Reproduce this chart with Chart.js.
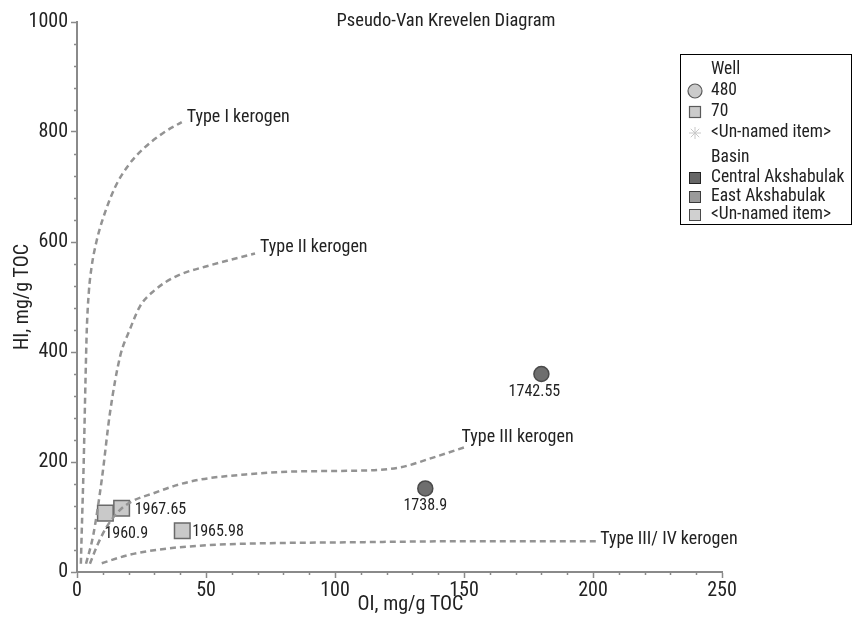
<!DOCTYPE html>
<html>
<head>
<meta charset="utf-8">
<script src="https://cdn.jsdelivr.net/npm/chart.js@4/dist/chart.umd.min.js"></script>
<style>
  html, body { margin: 0; padding: 0; background: #ffffff; }
  #wrap { width: 853px; height: 617px; position: relative; }
</style>
</head>
<body>
<div id="wrap"><canvas id="chart" width="853" height="617"></canvas></div>
<script>
const FONT = "'Roboto Condensed', Roboto, sans-serif";

// Axis ranges and tick steps
const xRange = [0, 250];
const yRange = [0, 1000];
const xMajorStep = 50, xMinorStep = 10;
const yMajorStep = 200, yMinorStep = 40;

// Samples, well 480 (Central Akshabulak)
const well480Depths = ['1742.55', '1738.9'];
const well480OI = [180, 135];
const well480HI = [360, 152];

// Samples, well 70
const well70Depths = ['1960.9', '1967.65', '1965.98'];
const well70OI = [11, 17.3, 40.8];
const well70HI = [107, 116, 75];

// Kerogen type reference curves (OI, HI)
const curveNames = ['Type I kerogen', 'Type II kerogen', 'Type III kerogen', 'Type III/ IV kerogen'];
const typeIOI  = [1.5, 1.8, 2.6, 3.3, 3.8, 4.6, 5.7, 7.5, 9.6, 14.7, 20, 25.6, 33, 40.6];
const typeIHI  = [15, 67, 200, 350, 441, 510, 556, 600, 636, 699, 740, 769, 797, 818];
const typeIIOI = [3.5, 6.3, 9.6, 12.8, 16.7, 20.5, 24.4, 30, 38.6, 50.3, 69];
const typeIIHI = [15, 67, 168, 290, 392, 441, 483, 512, 538, 556, 579];
const typeIIIOI = [5, 8, 11.5, 16.7, 22, 29.6, 38, 47.7, 67, 86.4, 105.8, 125, 138, 151];
const typeIIIHI = [15, 50, 82, 113, 130, 143, 157, 168, 178, 183, 184, 190, 208, 228];
const typeIVOI = [9.6, 20, 32, 51.6, 70, 106, 151, 202];
const typeIVHI = [16, 31, 41, 49, 52, 54, 56, 56];

// Legend entries
const legendWellTitle = 'Well';
const legendWells = ['480', '70', '<Un-named item>'];
const legendBasinTitle = 'Basin';
const legendBasins = ['Central Akshabulak', 'East Akshabulak', '<Un-named item>'];

const chartTitle = 'Pseudo-Van Krevelen Diagram';
const xTitle = 'OI, mg/g TOC';
const yTitle = 'HI, mg/g TOC';

// --- styling (kept apart from the values) ---
const AXIS = '#8a8a8a';
const TEXT = '#222222';
const CURVE = '#939393';
const curveLabelOffsets = [[5, -5], [5, -6], [-5, -9], [2, -2]];
const well480LabelOffsets = [[-7, 18, 'center'], [0, 18, 'center']];
const well70LabelOffsets = [[-1, 21, 'left'], [13, 2, 'left'], [10, 1, 'left']];

const toPoints = (xs, ys) => xs.map((x, i) => ({ x: x, y: ys[i] }));

function curveDataset(name, xs, ys) {
  return {
    label: name,
    data: toPoints(xs, ys),
    showLine: true,
    borderColor: CURVE,
    borderWidth: 2.5,
    borderDash: [6, 4],
    pointRadius: 0,
    cubicInterpolationMode: 'monotone',
    fill: false,
    isCurve: true
  };
}

const datasets = [
  curveDataset(curveNames[0], typeIOI, typeIHI),
  curveDataset(curveNames[1], typeIIOI, typeIIHI),
  curveDataset(curveNames[2], typeIIIOI, typeIIIHI),
  curveDataset(curveNames[3], typeIVOI, typeIVHI),
  {
    label: 'Well 70',
    data: toPoints(well70OI, well70HI),
    pointStyle: 'rect',
    pointRadius: 11,
    backgroundColor: '#c9c9c9',
    borderColor: '#6a6a6a',
    borderWidth: 1.5,
    depthLabels: well70Depths,
    labelOffsets: well70LabelOffsets
  },
  {
    label: 'Well 480',
    data: toPoints(well480OI, well480HI),
    pointStyle: 'circle',
    pointRadius: 7.5,
    backgroundColor: '#6e6e6e',
    borderColor: '#4a4a4a',
    borderWidth: 1.5,
    depthLabels: well480Depths,
    labelOffsets: well480LabelOffsets
  }
];

// Short minor tick marks between the labelled ticks
const minorTicks = {
  id: 'minorTicks',
  afterDraw(chart) {
    const { ctx, chartArea, scales } = chart;
    ctx.save();
    ctx.strokeStyle = AXIS;
    ctx.lineWidth = 1.5;
    ctx.beginPath();
    for (let v = yRange[0]; v <= yRange[1]; v += yMinorStep) {
      if (v % yMajorStep === 0) continue;
      const py = Math.round(scales.y.getPixelForValue(v)) + 0.5;
      ctx.moveTo(chartArea.left - 3, py);
      ctx.lineTo(chartArea.left, py);
    }
    for (let v = xRange[0]; v <= xRange[1]; v += xMinorStep) {
      if (v % xMajorStep === 0) continue;
      const px = Math.round(scales.x.getPixelForValue(v)) + 0.5;
      ctx.moveTo(px, chartArea.bottom);
      ctx.lineTo(px, chartArea.bottom + 3);
    }
    ctx.stroke();
    ctx.restore();
  }
};

// Curve names at the end of each curve, depth labels beside each sample
const annotations = {
  id: 'annotations',
  afterDatasetsDraw(chart) {
    const { ctx } = chart;
    ctx.save();
    ctx.fillStyle = TEXT;
    chart.data.datasets.forEach((ds, di) => {
      const meta = chart.getDatasetMeta(di);
      if (ds.isCurve) {
        const last = meta.data[meta.data.length - 1];
        const off = curveLabelOffsets[di];
        ctx.font = '18px ' + FONT;
        ctx.textAlign = 'left';
        ctx.textBaseline = 'middle';
        ctx.fillText(ds.label, last.x + off[0], last.y + off[1]);
      } else if (ds.depthLabels) {
        ctx.font = '16px ' + FONT;
        ctx.textBaseline = 'middle';
        meta.data.forEach((pt, i) => {
          const off = ds.labelOffsets[i];
          ctx.textAlign = off[2];
          ctx.fillText(ds.depthLabels[i], pt.x + off[0], pt.y + off[1]);
        });
      }
    });
    ctx.restore();
  }
};

// Title, horizontal axis title and the grouped legend box
const frame = {
  id: 'frame',
  afterDraw(chart) {
    const { ctx, chartArea } = chart;
    ctx.save();
    ctx.fillStyle = TEXT;
    ctx.font = '18.5px ' + FONT;
    ctx.textAlign = 'center';
    ctx.textBaseline = 'middle';
    ctx.fillText(chartTitle, 446, 21);

    ctx.font = '20px ' + FONT;
    ctx.fillText(xTitle, (chartArea.left + chartArea.right) / 2 + 11, chartArea.bottom + 33);

    // legend box
    ctx.strokeStyle = '#000000';
    ctx.lineWidth = 1;
    ctx.strokeRect(680.5, 54.5, 171, 170);

    ctx.font = '17.5px ' + FONT;
    ctx.textAlign = 'left';
    const tx = 711;
    const rows = [70, 91, 112, 133, 158, 178, 197, 215];
    ctx.fillText(legendWellTitle, tx, rows[0]);
    legendWells.forEach((t, i) => ctx.fillText(t, tx, rows[1 + i]));
    ctx.fillText(legendBasinTitle, tx, rows[4]);
    legendBasins.forEach((t, i) => ctx.fillText(t, tx, rows[5 + i]));

    // well symbols
    ctx.lineWidth = 1.2;
    ctx.fillStyle = '#cbcbcb';
    ctx.strokeStyle = '#5a5a5a';
    ctx.beginPath();
    ctx.arc(695, rows[1], 7, 0, Math.PI * 2);
    ctx.fill(); ctx.stroke();
    ctx.fillRect(689, rows[2] - 6, 12, 12);
    ctx.strokeRect(689.5, rows[2] - 5.5, 11, 11);
    // asterisk
    ctx.strokeStyle = '#c8c8c8';
    ctx.lineWidth = 1;
    ctx.beginPath();
    for (let a = 0; a < 4; a++) {
      const ang = a * Math.PI / 4;
      ctx.moveTo(695 - 6 * Math.cos(ang), rows[3] - 6 * Math.sin(ang));
      ctx.lineTo(695 + 6 * Math.cos(ang), rows[3] + 6 * Math.sin(ang));
    }
    ctx.stroke();

    // basin swatches
    const fills = ['#666666', '#9a9a9a', '#d0d0d0'];
    const strokes = ['#222222', '#3a3a3a', '#4a4a4a'];
    fills.forEach((f, i) => {
      const cy = rows[5 + i];
      ctx.fillStyle = f;
      ctx.fillRect(689, cy - 6, 12, 12);
      ctx.strokeStyle = strokes[i];
      ctx.lineWidth = 1;
      ctx.strokeRect(689.5, cy - 5.5, 11, 11);
    });
    ctx.restore();
  }
};

new Chart(document.getElementById('chart'), {
  type: 'scatter',
  data: { datasets: datasets },
  plugins: [minorTicks, annotations, frame],
  options: {
    responsive: false,
    animation: false,
    devicePixelRatio: 1,
    layout: { padding: { left: 0, right: 131, top: 22, bottom: 0 } },
    plugins: {
      legend: { display: false },
      title: { display: false },
      tooltip: { enabled: false }
    },
    scales: {
      x: {
        type: 'linear',
        min: xRange[0],
        max: xRange[1],
        afterFit: (s) => { s.height = 45; },
        ticks: {
          stepSize: xMajorStep,
          color: TEXT,
          font: { family: FONT, size: 20 },
          padding: 1,
          maxRotation: 0,
          callback: (v) => String(v)
        },
        grid: {
          drawOnChartArea: false,
          drawTicks: true,
          tickLength: 6,
          tickColor: AXIS,
          tickWidth: 1.5
        },
        border: { display: true, color: AXIS, width: 2 },
        title: { display: false }
      },
      y: {
        type: 'linear',
        min: yRange[0],
        max: yRange[1],
        afterFit: (s) => { s.width = 77; },
        ticks: {
          stepSize: yMajorStep,
          color: TEXT,
          font: { family: FONT, size: 20 },
          padding: 3,
          callback: (v) => String(v)
        },
        grid: {
          drawOnChartArea: false,
          drawTicks: true,
          tickLength: 6,
          tickColor: AXIS,
          tickWidth: 1.5
        },
        border: { display: true, color: AXIS, width: 2 },
        title: {
          display: true,
          text: yTitle,
          color: TEXT,
          font: { family: FONT, size: 20 },
          padding: { top: 11, bottom: 0 }
        }
      }
    }
  }
});
</script>
</body>
</html>
